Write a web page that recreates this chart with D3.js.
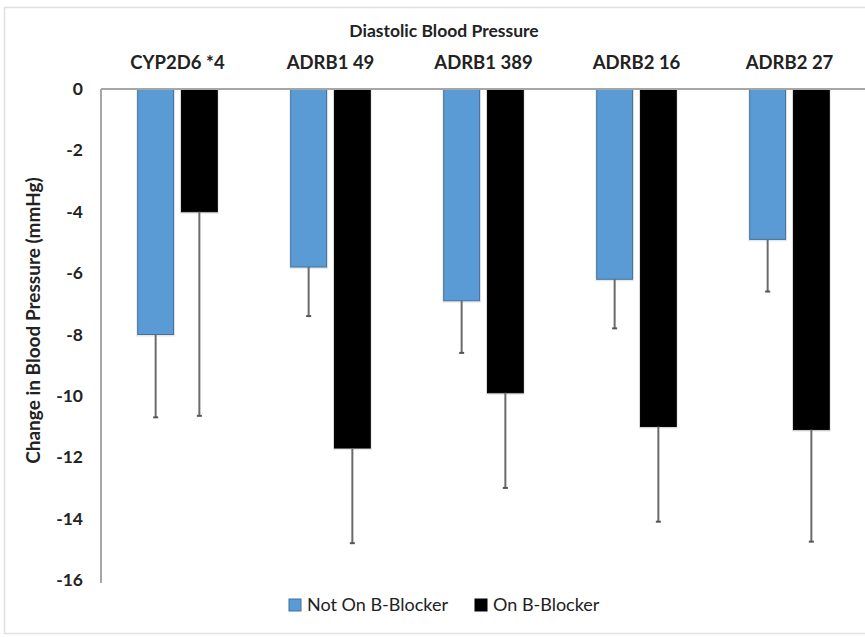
<!DOCTYPE html>
<html>
<head>
<meta charset="utf-8">
<script src="https://cdn.jsdelivr.net/npm/d3@7/dist/d3.min.js"></script>
<style>
  body { margin: 0; background: #fff; }
  text { font-family: Lato, "Open Sans", sans-serif; fill: #222; }
</style>
</head>
<body>
<div id="chart"></div>
<script>
// Diastolic blood pressure change, grouped bars with error bars

var categories = ["CYP2D6 *4", "ADRB1 49", "ADRB1 389", "ADRB2 16", "ADRB2 27"];
var seriesNames = ["Not On B-Blocker", "On B-Blocker"];
var notOnValues = [-8.0, -5.8, -6.9, -6.2, -4.9];
var notOnErrors = [2.7, 1.6, 1.7, 1.6, 1.7];
var onValues = [-4.0, -11.7, -9.9, -11.0, -11.1];
var onErrors = [6.65, 3.1, 3.1, 3.1, 3.65];
var yTicks = [0, -2, -4, -6, -8, -10, -12, -14, -16];

// layout (window.top is reserved, so use a namespace)
var lay = { W: 865, H: 637, left: 101, right: 866, top: 89, bottom: 580 };
var colors = ["#5b9bd5", "#000000"];
var strokes = ["#41719c", "#000000"];

var svg = d3.select("#chart").append("svg")
    .attr("width", lay.W).attr("height", lay.H);

// faint outer border
svg.append("rect")
    .attr("x", 4.5).attr("y", 7.5)
    .attr("width", lay.W + 10).attr("height", 626)
    .attr("fill", "none").attr("stroke", "#e0e0e0").attr("stroke-width", 1.5);

// build rows from the arrays
var rows = categories.map(function (c, i) {
    return {
        cat: c,
        bars: [
            { s: 0, v: notOnValues[i], e: notOnErrors[i] },
            { s: 1, v: onValues[i], e: onErrors[i] }
        ]
    };
});

// scales
var x0 = d3.scaleBand().domain(categories).range([lay.left, lay.right])
    .paddingInner(0.48).paddingOuter(0.24);
var x1 = d3.scaleBand().domain([0, 1]).range([0, x0.bandwidth()])
    .paddingInner(0.18);
var y = d3.scaleLinear().domain([0, -16]).range([lay.top, lay.bottom]);

// title
svg.append("text")
    .attr("x", 444).attr("y", 37)
    .attr("text-anchor", "middle")
    .attr("font-size", "17.5px").attr("font-weight", "bold")
    .text("Diastolic Blood Pressure");

// category labels on top
svg.selectAll(".cat")
    .data(categories)
    .enter().append("text")
    .attr("class", "cat")
    .attr("x", function (d) { return x0(d) + x0.bandwidth() / 2; })
    .attr("y", 69)
    .attr("text-anchor", "middle")
    .attr("font-size", "18.5px").attr("font-weight", "bold")
    .text(function (d) { return d; });

// y axis ticks
var yAxis = d3.axisLeft(y).tickValues(yTicks).tickSize(0).tickPadding(0)
    .tickFormat(function (d) { return d === 0 ? "0" : "-" + Math.abs(d); });
var gy = svg.append("g")
    .attr("transform", "translate(83,0)")
    .call(yAxis);
gy.select(".domain").remove();
gy.selectAll("text")
    .attr("font-size", "17.5px").attr("font-weight", "bold")
    .style("font-family", "Lato, sans-serif").attr("fill", "#222");

// y axis title
svg.append("text")
    .attr("transform", "translate(40," + ((lay.top + lay.bottom) / 2 - 14) + ") rotate(-90)")
    .attr("text-anchor", "middle")
    .attr("font-size", "19px").attr("font-weight", "bold")
    .text("Change in Blood Pressure (mmHg)");

// groups of bars
var groups = svg.selectAll(".grp")
    .data(rows)
    .enter().append("g")
    .attr("class", "grp")
    .attr("transform", function (d) { return "translate(" + x0(d.cat) + ",0)"; });

// soft shadow behind bars
groups.selectAll(".shadow")
    .data(function (d) { return d.bars; })
    .enter().append("rect")
    .attr("x", function (d) { return x1(d.s) - 1.5; })
    .attr("y", y(0))
    .attr("width", x1.bandwidth() + 3)
    .attr("height", function (d) { return y(d.v) - y(0) + 2; })
    .attr("fill", "#d9d9d9").attr("opacity", 0.6);

groups.selectAll(".bar")
    .data(function (d) { return d.bars; })
    .enter().append("rect")
    .attr("class", "bar")
    .attr("x", function (d) { return x1(d.s); })
    .attr("y", y(0))
    .attr("width", x1.bandwidth())
    .attr("height", function (d) { return y(d.v) - y(0); })
    .attr("fill", function (d) { return colors[d.s]; })
    .attr("stroke", function (d) { return strokes[d.s]; })
    .attr("stroke-width", 1);

// error bars (downward only)
groups.selectAll(".err")
    .data(function (d) { return d.bars; })
    .enter().append("line")
    .attr("x1", function (d) { return x1(d.s) + x1.bandwidth() / 2; })
    .attr("x2", function (d) { return x1(d.s) + x1.bandwidth() / 2; })
    .attr("y1", function (d) { return y(d.v); })
    .attr("y2", function (d) { return y(d.v - d.e); })
    .attr("stroke", "#6b6b6b").attr("stroke-width", 2);

groups.selectAll(".cap")
    .data(function (d) { return d.bars; })
    .enter().append("line")
    .attr("x1", function (d) { return x1(d.s) + x1.bandwidth() / 2 - 2.5; })
    .attr("x2", function (d) { return x1(d.s) + x1.bandwidth() / 2 + 2.5; })
    .attr("y1", function (d) { return y(d.v - d.e); })
    .attr("y2", function (d) { return y(d.v - d.e); })
    .attr("stroke", "#555").attr("stroke-width", 2);

// axis lines: zero line across the top and vertical axis
svg.append("line")
    .attr("x1", lay.left).attr("x2", lay.W)
    .attr("y1", y(0)).attr("y2", y(0))
    .attr("stroke", "#a6a6a6").attr("stroke-width", 2);
svg.append("line")
    .attr("x1", lay.left).attr("x2", lay.left)
    .attr("y1", y(0)).attr("y2", y(-16) + 3)
    .attr("stroke", "#a6a6a6").attr("stroke-width", 2);

// legend
var legend = svg.append("g").attr("transform", "translate(289,605)");
var lx = [0, 186];
seriesNames.forEach(function (name, i) {
    legend.append("rect")
        .attr("x", lx[i]).attr("y", -6)
        .attr("width", 12).attr("height", 12)
        .attr("fill", colors[i]).attr("stroke", i === 0 ? "#41719c" : "#000");
    legend.append("text")
        .attr("x", lx[i] + 18).attr("y", 6)
        .attr("font-size", "18px")
        .text(name);
});
</script>
</body>
</html>
